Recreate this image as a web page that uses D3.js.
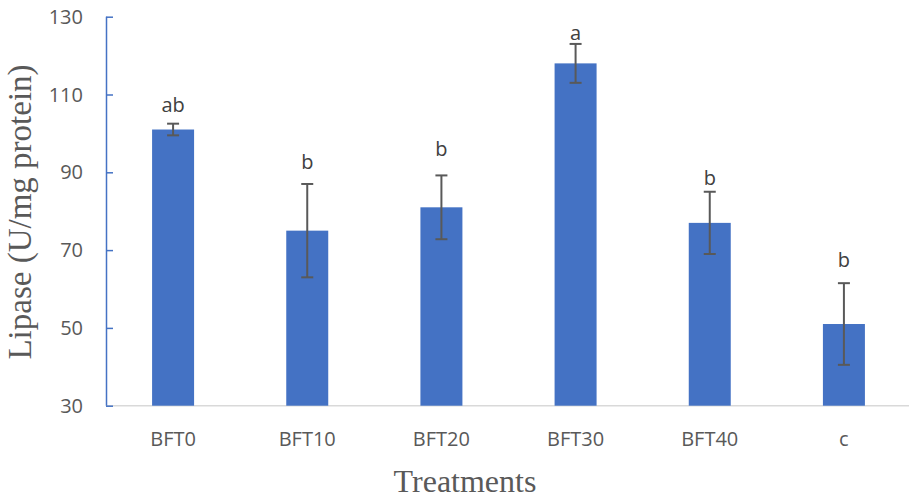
<!DOCTYPE html>
<html>
<head>
<meta charset="utf-8">
<script src="https://cdn.jsdelivr.net/npm/d3@7"></script>
<style>
  html, body { margin: 0; padding: 0; background: #fff; }
  svg { display: block; }
</style>
</head>
<body>
<svg id="chart" width="909" height="498"></svg>
<script>
// ---- data ----
const categories = ["BFT0", "BFT10", "BFT20", "BFT30", "BFT40", "c"];
const values     = [101, 75, 81, 118, 77, 51];
const errors     = [1.5, 12, 8.2, 5, 8, 10.5];
const letters    = ["ab", "b", "b", "a", "b", "b"];
const letterAt   = [105.6, 90.8, 94.2, 124, 86.7, 65.6];
const yTicks     = [30, 50, 70, 90, 110, 130];
const yTitle     = "Lipase (U/mg protein)";
const xTitle     = "Treatments";

// ---- layout ----
const svg = d3.select("#chart");
const x0 = 106, x1 = 911, yTop = 16.7, yBot = 405.7;

const x = d3.scaleBand().domain(categories).range([x0, x1])
  .paddingInner(0.687).paddingOuter(0.3435);
const y = d3.scaleLinear().domain([30, 130]).range([yBot, yTop]);

const sans = "'Open Sans', 'Noto Sans', sans-serif";
const serif = "'Liberation Serif', 'Times New Roman', serif";
const grey = "#595959";

// bottom axis line
svg.append("line")
  .attr("x1", x0).attr("x2", 909)
  .attr("y1", yBot).attr("y2", yBot)
  .attr("stroke", "#d9d9d9").attr("stroke-width", 1.5);

// bars
svg.selectAll("rect.bar").data(values).join("rect")
  .attr("class", "bar")
  .attr("x", (d, i) => x(categories[i]))
  .attr("width", x.bandwidth())
  .attr("y", d => y(d))
  .attr("height", d => yBot - y(d))
  .attr("fill", "#4472C4");

// y axis (ticks inward)
const yAxis = d3.axisRight(y).tickValues(yTicks).tickSize(7).tickFormat("");
const ya = svg.append("g").attr("transform", `translate(${x0},0)`).call(yAxis);
ya.select(".domain").attr("stroke", "#4472C4").attr("stroke-width", 1.5)
  .attr("d", `M0.5,${yTop}V${yBot}`);
ya.selectAll(".tick line").attr("stroke", "#4472C4").attr("stroke-width", 1.5);

// y tick labels
svg.selectAll("text.ytick").data(yTicks).join("text")
  .attr("class", "ytick")
  .attr("x", 83).attr("y", d => y(d))
  .attr("dy", "0.35em")
  .attr("text-anchor", "end")
  .attr("font-family", sans).attr("font-size", 20)
  .attr("fill", grey)
  .text(d => d);

// error bars
const eb = svg.selectAll("g.err").data(values).join("g").attr("class", "err")
  .attr("transform", (d, i) => `translate(${x(categories[i]) + x.bandwidth() / 2},0)`);
eb.append("line")
  .attr("y1", (d, i) => y(d + errors[i])).attr("y2", (d, i) => y(d - errors[i]))
  .attr("stroke", grey).attr("stroke-width", 2);
eb.append("line")
  .attr("x1", -6).attr("x2", 6)
  .attr("y1", (d, i) => y(d + errors[i])).attr("y2", (d, i) => y(d + errors[i]))
  .attr("stroke", grey).attr("stroke-width", 2);
eb.append("line")
  .attr("x1", -6).attr("x2", 6)
  .attr("y1", (d, i) => y(d - errors[i])).attr("y2", (d, i) => y(d - errors[i]))
  .attr("stroke", grey).attr("stroke-width", 2);

// significance letters
svg.selectAll("text.letter").data(letters).join("text")
  .attr("class", "letter")
  .attr("x", (d, i) => x(categories[i]) + x.bandwidth() / 2)
  .attr("y", (d, i) => y(letterAt[i]))
  .attr("text-anchor", "middle")
  .attr("font-family", sans).attr("font-size", 20)
  .attr("fill", "#404040")
  .text(d => d);

// x category labels
svg.selectAll("text.xcat").data(categories).join("text")
  .attr("class", "xcat")
  .attr("x", d => x(d) + x.bandwidth() / 2)
  .attr("y", 445.5)
  .attr("text-anchor", "middle")
  .attr("font-family", sans).attr("font-size", 20)
  .attr("fill", grey)
  .text(d => d);

// axis titles
svg.append("text")
  .attr("x", 465).attr("y", 491.5)
  .attr("text-anchor", "middle")
  .attr("font-family", serif).attr("font-size", 32)
  .attr("fill", grey)
  .text(xTitle);

svg.append("text")
  .attr("transform", "translate(31,212) rotate(-90)")
  .attr("text-anchor", "middle")
  .attr("font-family", serif).attr("font-size", 33)
  .attr("fill", grey)
  .text(yTitle);
</script>
</body>
</html>
